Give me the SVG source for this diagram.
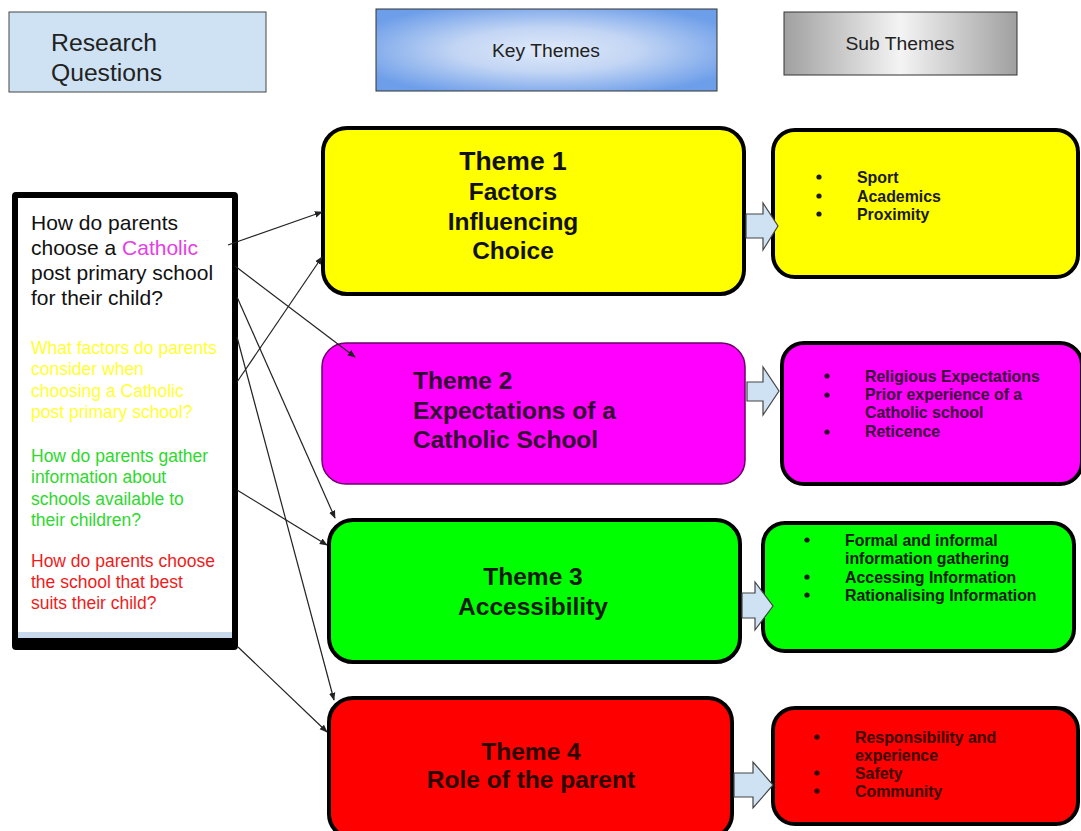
<svg xmlns="http://www.w3.org/2000/svg" width="1081" height="831" viewBox="0 0 1081 831">
<defs>
<radialGradient id="gKey" cx="0.5" cy="0.5" r="0.6">
<stop offset="0" stop-color="#e0eafa"/>
<stop offset="0.45" stop-color="#c2d5f4"/>
<stop offset="1" stop-color="#6d9ee9"/>
</radialGradient>
<linearGradient id="gSub" x1="0" y1="0" x2="1" y2="0">
<stop offset="0" stop-color="#a0a0a0"/>
<stop offset="0.5" stop-color="#f4f4f4"/>
<stop offset="1" stop-color="#a0a0a0"/>
</linearGradient>
<marker id="ah" viewBox="0 0 10 10" refX="9" refY="5" markerWidth="8" markerHeight="8" markerUnits="userSpaceOnUse" orient="auto">
<path d="M0,1 L10,5 L0,9 z" fill="#222"/>
</marker>
</defs>
<style>
text{font-family:"Liberation Sans",Arial,sans-serif}
.hdr{fill:#222}
.q{font-size:21px}
.sq{font-size:17.5px}
.th{font-size:24.5px;font-weight:bold}
.st{font-size:15.9px;font-weight:bold}
.box{stroke:#000;stroke-width:4}
.ba{fill:#cfe2f3;stroke:#444;stroke-width:1.2}
.con line{stroke:#222;stroke-width:1.2;marker-end:url(#ah)}
</style>
<rect width="1081" height="831" fill="#fff"/>

<g id="hdr-research">
<rect x="9" y="12" width="257" height="80" fill="#cfe2f3" stroke="#444" stroke-width="1"/>
<text class="hdr" x="51" y="51" font-size="23" textLength="106" lengthAdjust="spacingAndGlyphs">Research</text>
<text class="hdr" x="51" y="81" font-size="23" textLength="111" lengthAdjust="spacingAndGlyphs">Questions</text>
</g>
<g id="hdr-key">
<rect x="376" y="9" width="341" height="82" fill="url(#gKey)" stroke="#333" stroke-width="1"/>
<text class="hdr" x="546" y="57" font-size="18" text-anchor="middle" textLength="108" lengthAdjust="spacingAndGlyphs">Key Themes</text>
</g>
<g id="hdr-sub">
<rect x="784" y="12" width="233" height="63" fill="url(#gSub)" stroke="#333" stroke-width="1"/>
<text class="hdr" x="900" y="50" font-size="18" text-anchor="middle" textLength="109" lengthAdjust="spacingAndGlyphs">Sub Themes</text>
</g>

<g id="questions">
<rect x="12" y="192" width="226" height="458" rx="4" fill="#000"/>
<rect x="18" y="198" width="214" height="440" fill="#fff"/>
<rect x="18" y="632" width="214" height="6" fill="#c9d9ec"/>
<text class="q" fill="#111"><tspan x="31" y="230">How do parents</tspan><tspan x="31" y="255">choose a <tspan fill="#e53ee5">Catholic</tspan></tspan><tspan x="31" y="280">post primary school</tspan><tspan x="31" y="305">for their child?</tspan></text>
<text class="sq" fill="#ffff33"><tspan x="31" y="354">What factors do parents</tspan><tspan x="31" y="375">consider when</tspan><tspan x="31" y="397">choosing a Catholic</tspan><tspan x="31" y="418">post primary school?</tspan></text>
<text class="sq" fill="#2ed82e"><tspan x="31" y="462">How do parents gather</tspan><tspan x="31" y="483">information about</tspan><tspan x="31" y="505">schools available to</tspan><tspan x="31" y="526">their children?</tspan></text>
<text class="sq" fill="#ee1c1c"><tspan x="31" y="567">How do parents choose</tspan><tspan x="31" y="588">the school that best</tspan><tspan x="31" y="609">suits their child?</tspan></text>
</g>

<g id="theme1">
<rect class="box" x="323" y="128" width="421" height="166" rx="24" fill="#ffff00"/>
<text fill="#111" text-anchor="middle"><tspan x="513" y="170" font-size="26.5" font-weight="bold">Theme 1</tspan><tspan class="th" x="513" y="200">Factors</tspan><tspan class="th" x="513" y="230">Influencing</tspan><tspan class="th" x="513" y="259">Choice</tspan></text>
</g>
<g id="theme2">
<rect x="322" y="343" width="423" height="141" rx="24" fill="#ff00ff" stroke="#6a006a" stroke-width="1.5"/>
<text class="th" fill="#330033"><tspan x="413" y="389">Theme 2</tspan><tspan x="413" y="419">Expectations of a</tspan><tspan x="413" y="448">Catholic School</tspan></text>
</g>
<g id="theme3">
<rect class="box" x="329" y="520" width="411" height="142" rx="24" fill="#00ff00"/>
<text class="th" fill="#0d1a0d" text-anchor="middle"><tspan x="533" y="585">Theme 3</tspan><tspan x="533" y="615">Accessibility</tspan></text>
</g>
<g id="theme4">
<rect class="box" x="329" y="698" width="403" height="140" rx="24" fill="#ff0000"/>
<text class="th" fill="#2a0000" text-anchor="middle"><tspan x="531" y="760">Theme 4</tspan><tspan x="531" y="788">Role of the parent</tspan></text>
</g>

<g id="sub1">
<rect class="box" x="773" y="130" width="305" height="147" rx="22" fill="#ffff00"/>
<g fill="#1a1a1a"><circle cx="819" cy="177" r="2.6"/><circle cx="819" cy="196" r="2.6"/><circle cx="819" cy="214" r="2.6"/></g>
<text class="st" fill="#1a1a1a"><tspan x="857" y="183">Sport</tspan><tspan x="857" y="202">Academics</tspan><tspan x="857" y="220">Proximity</tspan></text>
</g>
<g id="sub2">
<rect class="box" x="782" y="343" width="300" height="141" rx="22" fill="#ff00ff"/>
<g fill="#2a002a"><circle cx="827" cy="376" r="2.6"/><circle cx="827" cy="395" r="2.6"/><circle cx="827" cy="432" r="2.6"/></g>
<text class="st" fill="#3a003a"><tspan x="865" y="382">Religious Expectations</tspan><tspan x="865" y="400">Prior experience of a</tspan><tspan x="865" y="418">Catholic school</tspan><tspan x="865" y="437">Reticence</tspan></text>
</g>
<g id="sub3">
<rect class="box" x="763" y="523" width="311" height="128" rx="22" fill="#00ff00"/>
<g fill="#0d1a0d"><circle cx="807" cy="540" r="2.6"/><circle cx="807" cy="577" r="2.6"/><circle cx="807" cy="595" r="2.6"/></g>
<text class="st" fill="#0d1a0d"><tspan x="845" y="546">Formal and informal</tspan><tspan x="845" y="564">information gathering</tspan><tspan x="845" y="583">Accessing Information</tspan><tspan x="845" y="601">Rationalising Information</tspan></text>
</g>
<g id="sub4">
<rect class="box" x="773" y="708" width="305" height="116" rx="22" fill="#ff0000"/>
<g fill="#2a0000"><circle cx="817" cy="737" r="2.6"/><circle cx="817" cy="773" r="2.6"/><circle cx="817" cy="791" r="2.6"/></g>
<text class="st" fill="#3a0000"><tspan x="855" y="743">Responsibility and</tspan><tspan x="855" y="761">experience</tspan><tspan x="855" y="779">Safety</tspan><tspan x="855" y="797">Community</tspan></text>
</g>

<g id="arrow1"><polygon class="ba" points="746,214 763,214 763,203 778,226 763,250 763,238 746,238"/></g>
<g id="arrow2"><polygon class="ba" points="747,382 763,382 763,367 779,391 763,415 763,401 747,401"/></g>
<g id="arrow3"><polygon class="ba" points="742,593 755,593 755,582 773,606 755,630 755,618 742,618"/></g>
<g id="arrow4"><polygon class="ba" points="734,773 753,773 753,762 773,785 753,808 753,797 734,797"/></g>

<g id="connectors" class="con">
<line x1="228" y1="245" x2="322" y2="212"/>
<line x1="235" y1="266" x2="355" y2="357"/>
<line x1="237" y1="382" x2="322" y2="257"/>
<line x1="237" y1="297" x2="335" y2="518"/>
<line x1="237" y1="337" x2="334" y2="700"/>
<line x1="237" y1="490" x2="327" y2="545"/>
<line x1="238" y1="647" x2="327" y2="732"/>
</g>
</svg>
